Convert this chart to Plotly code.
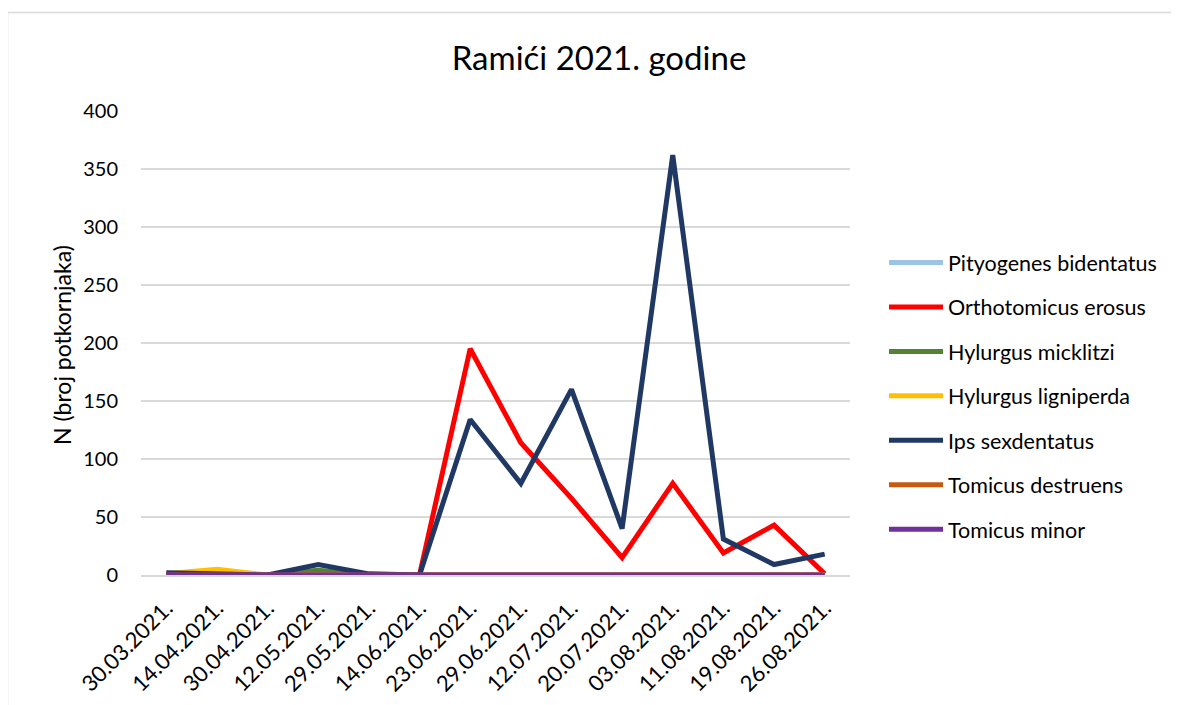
import plotly.graph_objects as go

dates = ["30.03.2021.", "14.04.2021.", "30.04.2021.", "12.05.2021.", "29.05.2021.",
         "14.06.2021.", "23.06.2021.", "29.06.2021.", "12.07.2021.", "20.07.2021.",
         "03.08.2021.", "11.08.2021.", "19.08.2021.", "26.08.2021."]

pityogenes_bidentatus = [0, 0, 0, 0, 0, 0, 0, 0, 0, 1, 0, 0, 0, 0]
orthotomicus_erosus = [0, 0, 0, 0, 0, 0, 195, 114, 66, 15, 79, 19, 43, 1]
hylurgus_micklitzi = [0, 0, 0, 4, 0, 0, 0, 0, 0, 0, 0, 0, 0, 0]
hylurgus_ligniperda = [1, 5, 0, 0, 0, 0, 0, 0, 0, 0, 0, 0, 0, 0]
ips_sexdentatus = [2, 1, 0, 9, 1, 0, 134, 79, 160, 40, 362, 31, 9, 18]
tomicus_destruens = [0, 0, 0, 0, 0, 0, 0, 1, 0, 0, 0, 0, 0, 0]
tomicus_minor = [0, 0, 0, 0, 0, 0, 0, 0, 0, 0, 0, 0, 0, 0]

y_ticks = [0, 50, 100, 150, 200, 250, 300, 350, 400]

series = [
    ("Pityogenes bidentatus", pityogenes_bidentatus, "#9dc3e6"),
    ("Orthotomicus erosus", orthotomicus_erosus, "#ff0000"),
    ("Hylurgus micklitzi", hylurgus_micklitzi, "#548235"),
    ("Hylurgus ligniperda", hylurgus_ligniperda, "#ffc000"),
    ("Ips sexdentatus", ips_sexdentatus, "#203864"),
    ("Tomicus destruens", tomicus_destruens, "#c55a11"),
    ("Tomicus minor", tomicus_minor, "#7030a0"),
]

FONT = "Lato"

fig = go.Figure()
for i, (name, vals, col) in enumerate(series):
    fig.add_trace(go.Scatter(
        x=dates, y=vals, name=name, mode="lines",
        line=dict(color=col, width=5),
        legendgroup="g%d" % i,
    ))

# page has an 8px body margin: compensate so target pixel positions match
OFF = 8
W, H = 1179, 705
plot_left, plot_right, plot_top, plot_bottom = 141 - OFF, 850 - OFF, 111 - OFF, 575 - OFF
L, R, T, B = plot_left, W - plot_right, plot_top, H - plot_bottom
pw, ph = plot_right - plot_left, plot_bottom - plot_top

def px_x(x):
    return (x - OFF - plot_left) / pw

def px_y(y):
    return (plot_bottom - (y - OFF)) / ph

fig.update_layout(
    width=W, height=H,
    margin=dict(l=L, r=R, t=T, b=B, autoexpand=False),
    paper_bgcolor="white", plot_bgcolor="white",
    font=dict(family=FONT, color="#000000", size=18),
    title=dict(text="Ramići 2021. godine", x=px_x(599), xref="paper", xanchor="center",
               y=1 - (58 - OFF) / H, yanchor="middle",
               font=dict(family=FONT, size=33, color="#000000")),
    xaxis=dict(type="category", range=[-0.5, 13.5], tickangle=-45,
               showgrid=False, showline=True, linecolor="#d9d9d9", linewidth=1.5,
               ticks="", ticklabelstandoff=10,
               tickfont=dict(family=FONT, size=22, color="#000000")),
    yaxis=dict(range=[0, 400], tickvals=y_ticks, showgrid=True, gridcolor="#d9d9d9",
               gridwidth=1.5, zeroline=False, showline=False, ticks="",
               ticklabelstandoff=22,
               tickfont=dict(family=FONT, size=20, color="#000000")),
    legend=dict(x=px_x(884), xanchor="left", y=px_y(396), yanchor="middle",
                font=dict(family=FONT, size=21.5, color="#000000"),
                tracegroupgap=13.5, bgcolor="rgba(0,0,0,0)", itemwidth=54),
    showlegend=True,
    annotations=[dict(text="N (broj potkornjaka)", xref="paper", yref="paper",
                      x=px_x(62), y=px_y(345), textangle=-90, showarrow=False,
                      xanchor="center", yanchor="middle",
                      font=dict(family=FONT, size=23, color="#000000"))],
    shapes=[dict(type="rect", xref="paper", yref="paper",
                 x0=px_x(7.5), x1=px_x(1200), y0=px_y(730), y1=px_y(12.5),
                 line=dict(color="#d9d9d9", width=1.5), fillcolor="rgba(0,0,0,0)",
                 layer="below")],
)

fig.write_html("out.html")
